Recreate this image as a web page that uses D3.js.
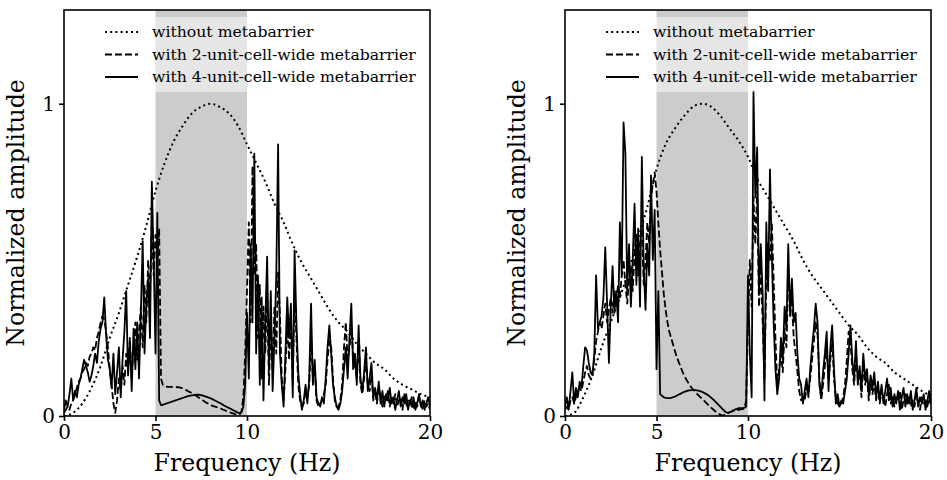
<!DOCTYPE html>
<html><head><meta charset="utf-8">
<script src="https://cdn.jsdelivr.net/npm/d3@7"></script>
<style>body{margin:0;background:#fff}svg{display:block}text{font-family:"DejaVu Serif",serif;fill:#000}</style>
</head><body><svg id="c" width="947" height="480"></svg>
<script>
// ---- data ----
const xTicks = [0, 5, 10, 20];
const yTicks = [0, 1];
const bandRange = [5, 10];
const legendLabels = ["without metabarrier", "with 2-unit-cell-wide metabarrier", "with 4-unit-cell-wide metabarrier"];
// frequency grids (Hz)
const freqFine = d3.range(201).map(i => i / 10);
const freqCoarse = d3.range(41).map(i => i / 2);

// left panel
const leftWithout = [0.0,0.01,0.04,0.09,0.16,0.25,0.33,0.42,0.51,0.61,0.72,0.81,0.88,0.93,0.97,0.99,1.0,0.99,0.97,0.93,0.87,0.81,0.75,0.68,0.62,0.55,0.49,0.44,0.39,0.34,0.30,0.27,0.23,0.20,0.17,0.15,0.12,0.10,0.085,0.07,0.06];
const leftTwo = [
0.01,0.02,0.03,0.02,0.04,0.05,0.07,0.09,0.11,0.12,
0.14,0.15,0.17,0.16,0.19,0.20,0.22,0.21,0.25,0.27,
0.30,0.32,0.31,0.27,0.22,0.15,0.10,0.04,0.01,0.05,
0.12,0.08,0.16,0.10,0.20,0.14,0.25,0.12,0.22,0.30,
0.18,0.27,0.35,0.22,0.42,0.30,0.50,0.38,0.62,0.45,
0.58,0.50,0.60,0.12,0.10,0.095,0.094,0.093,0.093,0.093,
0.093,0.093,0.092,0.092,0.090,0.088,0.085,0.082,0.079,0.076,
0.073,0.070,0.066,0.062,0.058,0.054,0.050,0.046,0.042,0.039,
0.036,0.033,0.031,0.029,0.027,0.025,0.023,0.020,0.018,0.015,
0.013,0.011,0.009,0.007,0.005,0.004,0.005,0.015,0.06,0.20,
0.40,0.62,0.30,0.80,0.45,0.55,0.25,0.42,0.12,0.35,
0.20,0.40,0.10,0.30,0.15,0.35,0.20,0.46,0.32,0.12,
0.05,0.15,0.30,0.18,0.32,0.10,0.40,0.25,0.10,0.05,
0.03,0.04,0.08,0.06,0.10,0.26,0.12,0.15,0.05,0.03,
0.04,0.05,0.07,0.10,0.18,0.24,0.22,0.12,0.05,0.03,
0.03,0.05,0.10,0.22,0.30,0.18,0.22,0.28,0.20,0.16,
0.12,0.24,0.10,0.07,0.12,0.18,0.10,0.08,0.13,0.05,
0.07,0.04,0.09,0.06,0.03,0.07,0.05,0.08,0.03,0.06,
0.04,0.07,0.03,0.05,0.06,0.02,0.07,0.03,0.05,0.04,
0.06,0.02,0.05,0.03,0.06,0.04,0.02,0.05,0.03,0.04,
0.02];
const leftFour = [
0.02,0.05,0.03,0.07,0.12,0.05,0.08,0.06,0.10,0.12,
0.15,0.18,0.16,0.14,0.11,0.13,0.16,0.20,0.17,0.24,
0.28,0.30,0.38,0.26,0.18,0.15,0.09,0.20,0.07,0.14,
0.22,0.06,0.18,0.27,0.40,0.13,0.24,0.08,0.28,0.15,
0.30,0.12,0.33,0.56,0.20,0.36,0.44,0.25,0.75,0.50,
0.20,0.65,0.05,0.035,0.036,0.038,0.04,0.042,0.044,0.046,
0.048,0.05,0.052,0.054,0.056,0.058,0.06,0.062,0.064,0.065,
0.066,0.067,0.068,0.068,0.068,0.067,0.065,0.063,0.061,0.059,
0.057,0.054,0.051,0.048,0.045,0.042,0.039,0.035,0.032,0.029,
0.026,0.023,0.02,0.017,0.014,0.011,0.009,0.012,0.03,0.10,
0.33,0.12,0.55,0.30,0.84,0.20,0.45,0.10,0.38,0.05,
0.30,0.51,0.15,0.40,0.08,0.25,0.45,0.87,0.20,0.10,
0.03,0.20,0.38,0.25,0.36,0.06,0.53,0.30,0.14,0.07,
0.02,0.05,0.10,0.04,0.12,0.36,0.10,0.18,0.06,0.04,
0.03,0.06,0.04,0.12,0.22,0.29,0.20,0.10,0.06,0.03,
0.02,0.04,0.08,0.15,0.22,0.12,0.25,0.36,0.15,0.20,
0.10,0.29,0.12,0.08,0.14,0.22,0.08,0.12,0.17,0.06,
0.09,0.05,0.11,0.04,0.08,0.03,0.07,0.05,0.09,0.04,
0.06,0.02,0.05,0.08,0.03,0.06,0.04,0.07,0.02,0.05,
0.03,0.06,0.02,0.04,0.07,0.03,0.05,0.02,0.04,0.06,
0.03];

// right panel
const rightWithout = [0.0,0.01,0.06,0.13,0.22,0.30,0.38,0.47,0.57,0.67,0.79,0.87,0.92,0.96,0.99,1.0,0.99,0.96,0.92,0.88,0.83,0.76,0.71,0.66,0.61,0.56,0.50,0.45,0.41,0.37,0.33,0.29,0.26,0.22,0.19,0.17,0.14,0.12,0.10,0.08,0.065];
const rightTwo = [
0.02,0.03,0.02,0.05,0.06,0.04,0.06,0.08,0.09,0.08,
0.11,0.14,0.16,0.13,0.12,0.14,0.18,0.24,0.27,0.30,
0.28,0.32,0.36,0.30,0.34,0.38,0.33,0.40,0.36,0.42,
0.38,0.45,0.50,0.42,0.36,0.44,0.48,0.40,0.52,0.58,
0.45,0.55,0.60,0.42,0.50,0.62,0.55,0.70,0.74,0.78,
0.72,0.62,0.53,0.46,0.39,0.34,0.30,0.27,0.25,0.23,
0.21,0.19,0.175,0.16,0.145,0.13,0.12,0.11,0.10,0.092,
0.085,0.078,0.072,0.066,0.060,0.055,0.049,0.043,0.037,0.031,
0.026,0.021,0.016,0.011,0.007,0.004,0.002,0.003,0.006,0.009,
0.012,0.014,0.016,0.018,0.019,0.020,0.021,0.022,0.024,0.05,
0.30,0.50,0.35,0.70,0.55,0.72,0.35,0.48,0.30,0.12,
0.45,0.55,0.50,0.62,0.44,0.25,0.10,0.15,0.20,0.14,
0.28,0.22,0.45,0.40,0.36,0.25,0.20,0.14,0.08,0.05,
0.06,0.05,0.09,0.07,0.12,0.18,0.24,0.30,0.26,0.12,
0.05,0.10,0.16,0.22,0.12,0.18,0.24,0.12,0.06,0.04,
0.03,0.04,0.06,0.10,0.18,0.27,0.24,0.15,0.10,0.20,
0.12,0.14,0.06,0.17,0.10,0.13,0.05,0.10,0.07,0.11,
0.05,0.09,0.04,0.08,0.06,0.03,0.07,0.10,0.04,0.06,
0.03,0.06,0.05,0.08,0.02,0.05,0.07,0.04,0.06,0.03,
0.05,0.03,0.07,0.04,0.02,0.06,0.04,0.05,0.03,0.06,
0.03];
const rightFour = [
0.03,0.06,0.02,0.08,0.14,0.04,0.09,0.06,0.11,0.09,
0.16,0.22,0.21,0.17,0.14,0.13,0.20,0.45,0.28,0.30,
0.32,0.38,0.54,0.36,0.17,0.35,0.48,0.33,0.40,0.30,
0.62,0.45,0.94,0.84,0.40,0.55,0.35,0.50,0.68,0.42,
0.60,0.35,0.83,0.48,0.34,0.55,0.45,0.77,0.50,0.66,
0.15,0.40,0.07,0.065,0.060,0.058,0.057,0.057,0.058,0.060,
0.062,0.065,0.068,0.071,0.074,0.077,0.079,0.081,0.082,0.083,
0.083,0.083,0.082,0.081,0.079,0.077,0.074,0.071,0.067,0.063,
0.058,0.053,0.047,0.041,0.035,0.029,0.023,0.017,0.012,0.010,
0.012,0.015,0.018,0.021,0.023,0.025,0.025,0.025,0.026,0.03,
0.45,0.20,0.06,1.04,0.70,0.86,0.40,0.55,0.39,0.05,
0.62,0.40,0.79,0.52,0.30,0.15,0.07,0.12,0.25,0.18,
0.35,0.28,0.55,0.32,0.44,0.30,0.33,0.20,0.12,0.10,
0.04,0.08,0.12,0.06,0.15,0.22,0.28,0.36,0.30,0.10,
0.06,0.14,0.20,0.27,0.08,0.22,0.29,0.15,0.04,0.07,
0.03,0.05,0.04,0.08,0.12,0.20,0.29,0.18,0.12,0.24,
0.10,0.16,0.08,0.20,0.12,0.15,0.07,0.13,0.09,0.14,
0.06,0.11,0.05,0.10,0.04,0.08,0.12,0.05,0.09,0.03,
0.07,0.04,0.08,0.02,0.06,0.09,0.03,0.07,0.04,0.08,
0.02,0.05,0.09,0.03,0.06,0.04,0.07,0.02,0.05,0.08,
0.04];

// ---- drawing ----
const svg = d3.select("#c");
const yTopPx = 10, yBotPx = 416;
const panels = [
  {x0: 64, x1: 430, without: leftWithout, two: leftTwo, four: leftFour},
  {x0: 565, x1: 931, without: rightWithout, two: rightTwo, four: rightFour}
];
const y = d3.scaleLinear().domain([0, 1.3]).range([yBotPx, yTopPx]);

// size a font so that a text spans a given width
function fitSize(txt, targetW) {
  const t = svg.append("text").style("font-size", "100px").text(txt);
  const w = t.node().getComputedTextLength();
  t.remove();
  return 100 * targetW / w;
}
const legendFont = fitSize(legendLabels[2], 264);
const labelFont = fitSize("Frequency (Hz)", 187);

panels.forEach((p, pi) => {
  const x = d3.scaleLinear().domain([0, 20]).range([p.x0, p.x1]);
  const g = svg.append("g");
  const cid = "clip" + pi;
  svg.append("defs").append("clipPath").attr("id", cid)
    .append("rect").attr("x", p.x0).attr("y", yTopPx).attr("width", p.x1 - p.x0).attr("height", yBotPx - yTopPx);

  g.append("rect").attr("x", x(bandRange[0])).attr("y", yTopPx)
    .attr("width", x(bandRange[1]) - x(bandRange[0])).attr("height", yBotPx - yTopPx)
    .attr("fill", "#cccccc");

  const plot = g.append("g").attr("clip-path", `url(#${cid})`);
  const lineC = d3.line().x(d => x(d[0])).y(d => y(d[1])).curve(d3.curveMonotoneX);
  const lineL = d3.line().x(d => x(d[0])).y(d => y(d[1]));

  plot.append("path").datum(freqCoarse.map((f, i) => [f, p.without[i]]))
    .attr("d", lineC).attr("fill", "none").attr("stroke", "#000")
    .attr("stroke-width", 2).attr("stroke-dasharray", "2,3.2");
  plot.append("path").datum(freqFine.map((f, i) => [f, p.two[i]]))
    .attr("d", lineL).attr("fill", "none").attr("stroke", "#000")
    .attr("stroke-width", 1.8).attr("stroke-dasharray", "7,3").attr("stroke-linejoin", "round");
  plot.append("path").datum(freqFine.map((f, i) => [f, p.four[i]]))
    .attr("d", lineL).attr("fill", "none").attr("stroke", "#000")
    .attr("stroke-width", 1.8).attr("stroke-linejoin", "round");

  // legend
  const lg = g.append("g");
  lg.append("rect").attr("x", p.x0 + 33).attr("y", 17).attr("width", 330).attr("height", 75)
    .attr("fill", "#fff").attr("fill-opacity", 0.5);
  const dashes = ["2,3.2", "7,3", null];
  legendLabels.forEach((t, i) => {
    const yy = 32 + i * 22.5;
    const l = lg.append("line").attr("x1", p.x0 + 41).attr("x2", p.x0 + 74).attr("y1", yy).attr("y2", yy)
      .attr("stroke", "#000").attr("stroke-width", i === 0 ? 2 : 1.8);
    if (dashes[i]) l.attr("stroke-dasharray", dashes[i]);
    lg.append("text").attr("x", p.x0 + 88).attr("y", yy).attr("dy", "0.35em")
      .style("font-size", legendFont + "px").text(t);
  });

  // axes
  const ax = g.append("g").attr("transform", `translate(0,${yBotPx})`)
    .call(d3.axisBottom(x).tickValues(xTicks).tickFormat(d3.format("d")).tickSize(5).tickPadding(4));
  const ay = g.append("g").attr("transform", `translate(${p.x0},0)`)
    .call(d3.axisLeft(y).tickValues(yTicks).tickFormat(d3.format("d")).tickSize(5).tickPadding(4));
  [ax, ay].forEach(a => {
    a.select(".domain").remove();
    a.selectAll(".tick line").attr("stroke", "#000").attr("stroke-width", 1.6);
    a.selectAll(".tick text").style("font-size", "20px").style("font-family", "DejaVu Serif");
  });
  g.append("rect").attr("x", p.x0).attr("y", yTopPx).attr("width", p.x1 - p.x0).attr("height", yBotPx - yTopPx)
    .attr("fill", "none").attr("stroke", "#000").attr("stroke-width", 1.6);

  g.append("text").attr("x", (p.x0 + p.x1) / 2).attr("y", 471).attr("text-anchor", "middle")
    .style("font-size", labelFont + "px").text("Frequency (Hz)");
  g.append("text").attr("transform", `translate(${p.x0 - 40},${(yTopPx + yBotPx) / 2}) rotate(-90)`)
    .attr("text-anchor", "middle").style("font-size", labelFont + "px").text("Normalized amplitude");
});
</script></body></html>
